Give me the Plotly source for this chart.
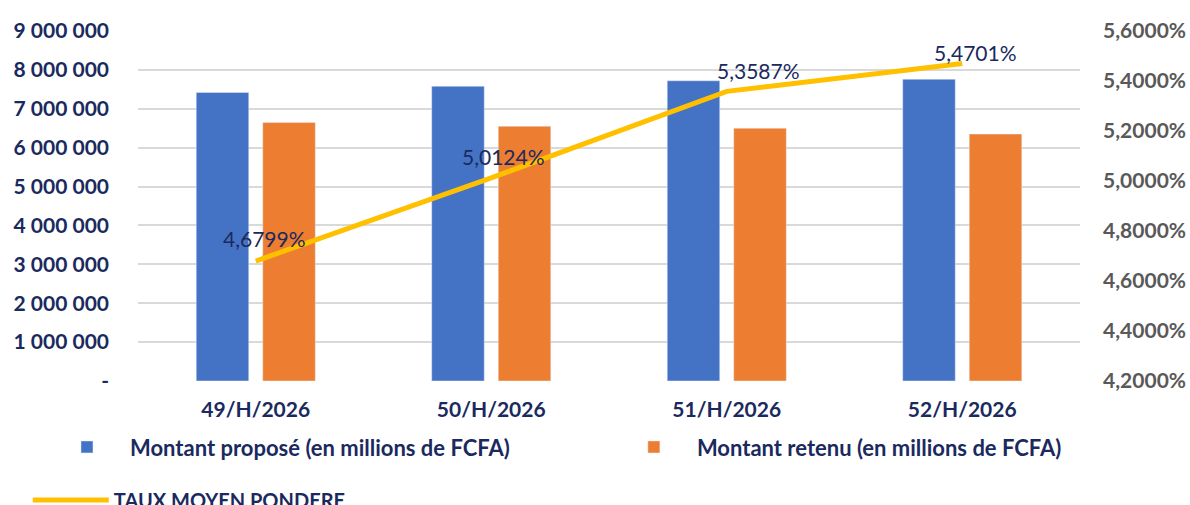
import plotly.graph_objects as go

categories = ["49/H/2026", "50/H/2026", "51/H/2026", "52/H/2026"]
montant_propose = [7420000, 7580000, 7720000, 7760000]
montant_retenu = [6650000, 6550000, 6500000, 6350000]
taux_moyen = [4.6799, 5.0124, 5.3587, 5.4701]

left_tickvals = [0, 1000000, 2000000, 3000000, 4000000, 5000000, 6000000, 7000000, 8000000, 9000000]
left_ticktext = ["-", "1 000 000", "2 000 000", "3 000 000", "4 000 000", "5 000 000",
                 "6 000 000", "7 000 000", "8 000 000", "9 000 000"]
right_tickvals = [4.2, 4.4, 4.6, 4.8, 5.0, 5.2, 5.4, 5.6]
right_ticktext = ["4,2000%", "4,4000%", "4,6000%", "4,8000%", "5,0000%", "5,2000%", "5,4000%", "5,6000%"]

NAVY = "#1A2A5E"
FONT = "Lato"

fig = go.Figure()
fig.add_trace(go.Bar(x=categories, y=montant_propose, name="Montant proposé (en millions de FCFA)",
                     marker=dict(color="#4472C4"), legend="legend"))
fig.add_trace(go.Bar(x=categories, y=montant_retenu, name="Montant retenu (en millions de FCFA)",
                     marker=dict(color="#ED7D31"), legend="legend3"))
fig.add_trace(go.Scatter(x=categories, y=taux_moyen, name="TAUX MOYEN PONDERE", yaxis="y2",
                         mode="lines", line=dict(color="#FFC000", width=5), legend="legend2"))

label_xshifts = [9, 12, 32, 13]
label_yshifts = [23, 21, 21, 11]
for c, v, xs, ys in zip(categories, taux_moyen, label_xshifts, label_yshifts):
    fig.add_annotation(x=c, y=v, yref="y2", text=f"{v:.4f}%".replace(".", ","),
                       showarrow=False, xshift=xs, yshift=ys,
                       font=dict(family=FONT, size=21, color=NAVY))

legend_font = dict(family=FONT, size=22, color=NAVY, weight="bold")
fig.update_layout(
    width=1190, height=505,
    showlegend=True,
    margin=dict(l=138, r=110, t=31, b=124, autoexpand=False),
    paper_bgcolor="white", plot_bgcolor="white",
    barmode="group", bargap=0.435, bargroupgap=0.21,
    font=dict(family=FONT, color=NAVY),
    xaxis=dict(showgrid=False, showline=False, ticks="", ticklabelstandoff=14,
               tickfont=dict(family=FONT, size=21, color=NAVY, weight="bold")),
    yaxis=dict(range=[0, 9000000], tickvals=left_tickvals, ticktext=left_ticktext,
               showgrid=True, gridcolor="#D9D9D9", gridwidth=1.5, zeroline=False, showline=False,
               ticklabelstandoff=28,
               tickfont=dict(family=FONT, size=21, color=NAVY, weight="bold")),
    yaxis2=dict(range=[4.2, 5.6], tickvals=right_tickvals, ticktext=right_ticktext,
                overlaying="y", side="right", showgrid=False, zeroline=False, showline=False,
                ticklabelstandoff=22,
                tickfont=dict(family=FONT, size=21, color="#595959", weight="bold")),
    legend=dict(visible=True, orientation="h", x=-0.0998, xanchor="left", y=-0.189, yanchor="middle",
                itemwidth=76, font=legend_font, bgcolor="rgba(0,0,0,0)"),
    legend3=dict(orientation="h", x=0.502, xanchor="left", y=-0.189, yanchor="middle",
                 itemwidth=76, font=legend_font, bgcolor="rgba(0,0,0,0)"),
    legend2=dict(orientation="h", x=-0.117, xanchor="left", y=-0.34, yanchor="middle",
                 itemwidth=76, font=dict(family=FONT, size=20, color=NAVY, weight="bold"),
                 bgcolor="rgba(0,0,0,0)"),
)

fig.write_html("out.html")
